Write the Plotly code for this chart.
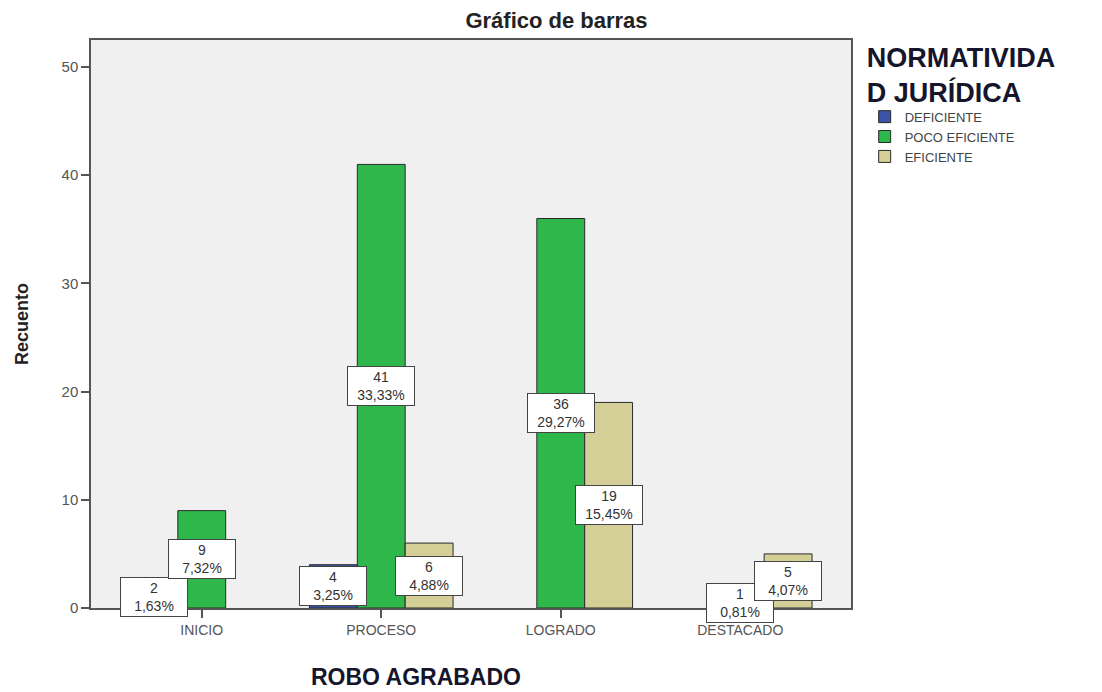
import plotly.graph_objects as go

categories = ["INICIO", "PROCESO", "LOGRADO", "DESTACADO"]
series_names = ["DEFICIENTE", "POCO EFICIENTE", "EFICIENTE"]
deficiente = [2, 4, 0, 0]
poco_eficiente = [9, 41, 36, 1]
eficiente = [0, 6, 19, 5]
series_values = [deficiente, poco_eficiente, eficiente]
colors = ["#3b55a6", "#2eb84b", "#d3cf97"]
y_ticks = [0, 10, 20, 30, 40, 50]

total = sum(sum(s) for s in series_values)
FONT = "Liberation Sans, Arial"

fig = go.Figure()
for name, vals, col in zip(series_names, series_values, colors):
    fig.add_trace(go.Bar(
        x=list(range(len(categories))),
        y=[v if v > 0 else None for v in vals],
        name=name,
        marker=dict(color=col, line=dict(color="#2a2a2a", width=1)),
    ))

n = len(series_names)
bargap = 0.2
w = (1 - bargap) / n
annotations = []
for i, vals in enumerate(series_values):
    for j, v in enumerate(vals):
        if v <= 0:
            continue
        pct = f"{v / total * 100:.2f}".replace(".", ",") + "%"
        annotations.append(dict(
            x=j + (i - (n - 1) / 2) * w, y=v / 2, xref="x", yref="y",
            text=f"{v}<br>{pct}", showarrow=False,
            font=dict(family=FONT, size=14, color="#333333"),
            bgcolor="#ffffff", bordercolor="#444444", borderwidth=1, borderpad=2,
            width=62,
        ))

annotations.append(dict(
    x=0.427, y=-0.121, xref="paper", yref="paper", text="<b>ROBO AGRABADO</b>",
    showarrow=False, xanchor="center", yanchor="middle",
    font=dict(family=FONT, size=23, color="#15152b"),
))

fig.update_layout(
    width=1102, height=692,
    margin=dict(l=91, r=251, t=40, b=84),
    paper_bgcolor="#ffffff", plot_bgcolor="#f0f0f0",
    barmode="group", bargap=bargap, bargroupgap=0,
    title=dict(text="<b>Gráfico de barras</b>", x=0.505, xanchor="center", y=0.97, yanchor="middle",
               font=dict(family=FONT, size=22, color="#222222")),
    showlegend=True,
    legend=dict(
        x=1.018, xanchor="left", y=1.015, yanchor="top",
        title=dict(text="<b>NORMATIVIDA<br>D JURÍDICA</b>", side="top",
                   font=dict(family=FONT, size=27, color="#15152b")),
        font=dict(family=FONT, size=13, color="#444444"),
        bgcolor="rgba(0,0,0,0)", tracegroupgap=0, itemwidth=30,
    ),
    annotations=annotations,
    font=dict(family=FONT),
)

fig.update_xaxes(
    tickmode="array", tickvals=list(range(len(categories))), ticktext=categories,
    range=[-0.617, len(categories) - 1 + 0.617],
    showline=True, linecolor="#555555", linewidth=1.5, mirror=True,
    ticks="outside", ticklen=8, tickcolor="#555555", tickwidth=1.5,
    tickfont=dict(family=FONT, size=14, color="#555555"), showgrid=False, zeroline=False,
)
fig.update_yaxes(
    tickmode="array", tickvals=y_ticks, range=[0, 52.5],
    showline=True, linecolor="#555555", linewidth=1.5, mirror=True,
    ticks="outside", ticklen=8, tickcolor="#555555", tickwidth=1.5,
    tickfont=dict(family=FONT, size=15, color="#555555"), showgrid=False, zeroline=False,
    title=dict(text="<b>Recuento</b>", font=dict(family=FONT, size=18, color="#222222"), standoff=28),
)

fig.write_html("out.html", config={"displayModeBar": False},
               post_script="document.body.style.margin='0';")
